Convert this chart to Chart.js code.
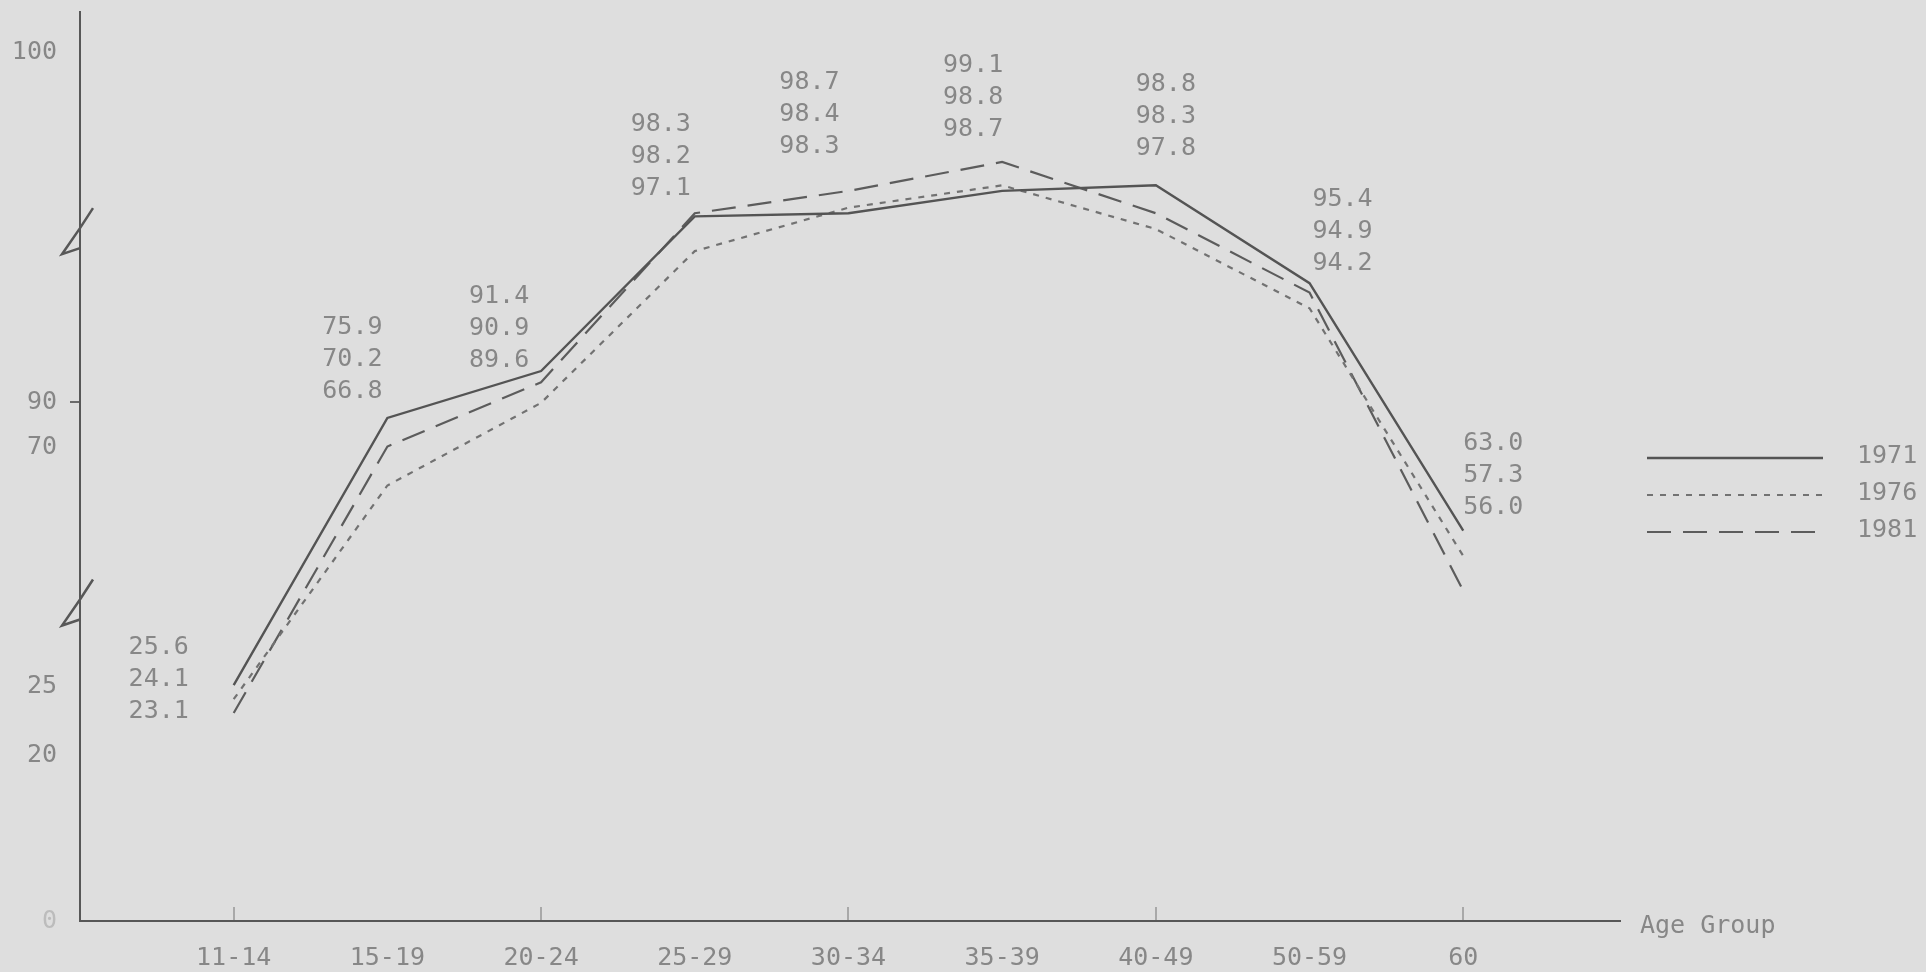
<!DOCTYPE html>
<html>
<head>
<meta charset="utf-8">
<script src="https://cdn.jsdelivr.net/npm/chart.js@4.4.1/dist/chart.umd.min.js"></script>
<style>
  html, body { margin: 0; padding: 0; background: #dedede; }
  canvas { display: block; }
</style>
</head>
<body>
<canvas id="myChart" width="1926" height="972"></canvas>
<script>
// categories and the three survey years
const ageGroups = ['11-14', '15-19', '20-24', '25-29', '30-34', '35-39', '40-49', '50-59', '60'];
const rate1971 = [25.6, 75.9, 91.4, 98.2, 98.3, 98.7, 98.8, 95.4, 63.0];
const rate1976 = [24.1, 66.8, 89.6, 97.1, 98.4, 98.8, 97.8, 94.2, 57.3];
const rate1981 = [23.1, 70.2, 90.9, 98.3, 98.7, 99.1, 98.3, 94.9, 56.0];
const yTickValues = [0, 20, 25, 70, 90, 100];
const breakValues = [97.7, 54];

/* the y axis of the scan is broken (and hand drawn): value -> share of the axis height */
const ySegments = [[0, 0], [20, 0.1817], [25, 0.2577], [55, 0.3524], [56, 0.3634], [57.5, 0.4075],
                   [63, 0.4295], [70, 0.5209], [76, 0.5540], [90, 0.5705], [95, 0.6938], [97, 0.7335],
                   [98.3, 0.7786], [99, 0.8216], [100, 0.9559], [101, 1]];

/* where the value triples sit, relative to the top point of each age group */
const labelShift = [[-75, 26], [-35, -26], [-42, -11], [-34, -25], [-39, -44], [-29, -32], [10, -37], [33, -20], [30, -23]];

const FONT = 'DejaVu Sans Mono';
const TEXT = '#878787';
const INK = '#575757';

function toShare(v) {
  const s = ySegments;
  if (v <= s[0][0]) return s[0][1];
  for (let i = 1; i < s.length; i++) {
    if (v <= s[i][0]) {
      const a = s[i - 1], b = s[i];
      return a[1] + (v - a[0]) / (b[0] - a[0]) * (b[1] - a[1]);
    }
  }
  return s[s.length - 1][1];
}
function fromShare(f) {
  const s = ySegments;
  if (f <= s[0][1]) return s[0][0];
  for (let i = 1; i < s.length; i++) {
    if (f <= s[i][1]) {
      const a = s[i - 1], b = s[i];
      return a[0] + (f - a[1]) / (b[1] - a[1]) * (b[0] - a[0]);
    }
  }
  return s[s.length - 1][0];
}

const LinearScale = Chart.LinearScale || Chart.registry.getScale('linear');
class BrokenScale extends LinearScale {
  getPixelForValue(value) { return this.getPixelForDecimal(toShare(value)); }
  getValueForPixel(pixel) { return fromShare(this.getDecimalForPixel(pixel)); }
}
BrokenScale.id = 'broken';
BrokenScale.defaults = LinearScale.defaults;
Chart.register(BrokenScale);

function points(values) {
  return values.map((v, i) => ({x: i, y: v}));
}

// value triples, break marks, side legend and the "Age Group" caption
const decor = {
  id: 'decor',
  afterDatasetsDraw(chart) {
    const ctx = chart.ctx;
    const xs = chart.scales.x, ys = chart.scales.y;
    const sets = chart.data.datasets;
    ctx.save();
    ctx.font = '25px "' + FONT + '"';
    ctx.fillStyle = TEXT;
    ctx.textAlign = 'center';
    ctx.textBaseline = 'middle';
    ageGroups.forEach((g, i) => {
      const vals = sets.map(d => d.data[i].y).sort((a, b) => b - a);
      const top = ys.getPixelForValue(vals[0]);
      const x = xs.getPixelForValue(i) + labelShift[i][0];
      vals.forEach((v, k) => {
        ctx.fillText(v.toFixed(1), x, top + labelShift[i][1] - (vals.length - 1 - k) * 32);
      });
    });

    // zigzag breaks on the y axis
    const ax = chart.chartArea.left;
    ctx.strokeStyle = INK;
    ctx.lineWidth = 2.5;
    breakValues.forEach(b => {
      const cy = ys.getPixelForValue(b);
      ctx.beginPath();
      ctx.moveTo(ax + 13, cy - 24);
      ctx.lineTo(ax, cy - 4);
      ctx.lineTo(ax - 18, cy + 22);
      ctx.lineTo(ax, cy + 16);
      ctx.stroke();
    });

    // legend at the right
    ctx.textAlign = 'left';
    sets.forEach((d, i) => {
      const y = 458 + i * 37;
      ctx.strokeStyle = d.borderColor;
      ctx.lineWidth = d.borderWidth;
      ctx.setLineDash(d.borderDash || []);
      ctx.beginPath();
      ctx.moveTo(1647, y);
      ctx.lineTo(1823, y);
      ctx.stroke();
      ctx.setLineDash([]);
      ctx.fillStyle = TEXT;
      ctx.fillText(d.label, 1857, y - 2);
    });

    ctx.fillText('Age Group', chart.chartArea.right + 20, xs.top + 5);
    ctx.restore();
  }
};

const ctx = document.getElementById('myChart').getContext('2d');
const myChart = new Chart(ctx, {
  type: 'line',
  data: {
    datasets: [{
      label: '1971',
      data: points(rate1971),
      borderColor: '#545454',
      borderWidth: 2.4,
      pointRadius: 0,
      tension: 0
    }, {
      label: '1976',
      data: points(rate1976),
      borderColor: '#727272',
      borderWidth: 2.2,
      borderDash: [6, 7],
      pointRadius: 0,
      tension: 0
    }, {
      label: '1981',
      data: points(rate1981),
      borderColor: '#5c5c5c',
      borderWidth: 2.2,
      borderDash: [24, 12],
      pointRadius: 0,
      tension: 0
    }]
  },
  options: {
    responsive: false,
    animation: false,
    layout: { padding: { top: 12, right: 306, left: 0, bottom: 0 } },
    plugins: {
      legend: { display: false },
      tooltip: { enabled: false }
    },
    scales: {
      x: {
        type: 'linear',
        min: -1,
        max: 9.02,
        afterBuildTicks: s => { s.ticks = ageGroups.map((g, i) => ({value: i})); },
        afterFit: s => { s.height = 51; },
        border: { color: INK, width: 2 },
        grid: {
          drawOnChartArea: false,
          tickLength: -14,
          lineWidth: 2,
          color: c => (c.index % 2 === 0 ? '#a8a8a8' : 'rgba(0,0,0,0)')
        },
        ticks: {
          padding: 36,
          autoSkip: false,
          maxRotation: 0,
          color: TEXT,
          font: { family: FONT, size: 25 },
          callback: v => ageGroups[v]
        }
      },
      y: {
        type: 'broken',
        min: 0,
        max: 101,
        afterBuildTicks: s => { s.ticks = yTickValues.map(v => ({value: v})); },
        afterFit: s => { s.width = 80; s.paddingTop = 0; s.paddingBottom = 0; },
        border: { color: INK, width: 2 },
        grid: {
          drawOnChartArea: false,
          tickLength: 10,
          lineWidth: 2,
          color: c => (c.tick && c.tick.value === 90 ? '#6a6a6a' : 'rgba(0,0,0,0)')
        },
        ticks: {
          padding: 13,
          color: c => (c.tick && c.tick.value === 0 ? '#bcbcbc' : TEXT),
          font: { family: FONT, size: 25 },
          callback: v => String(v)
        }
      }
    }
  },
  plugins: [decor]
});
</script>
</body>
</html>
